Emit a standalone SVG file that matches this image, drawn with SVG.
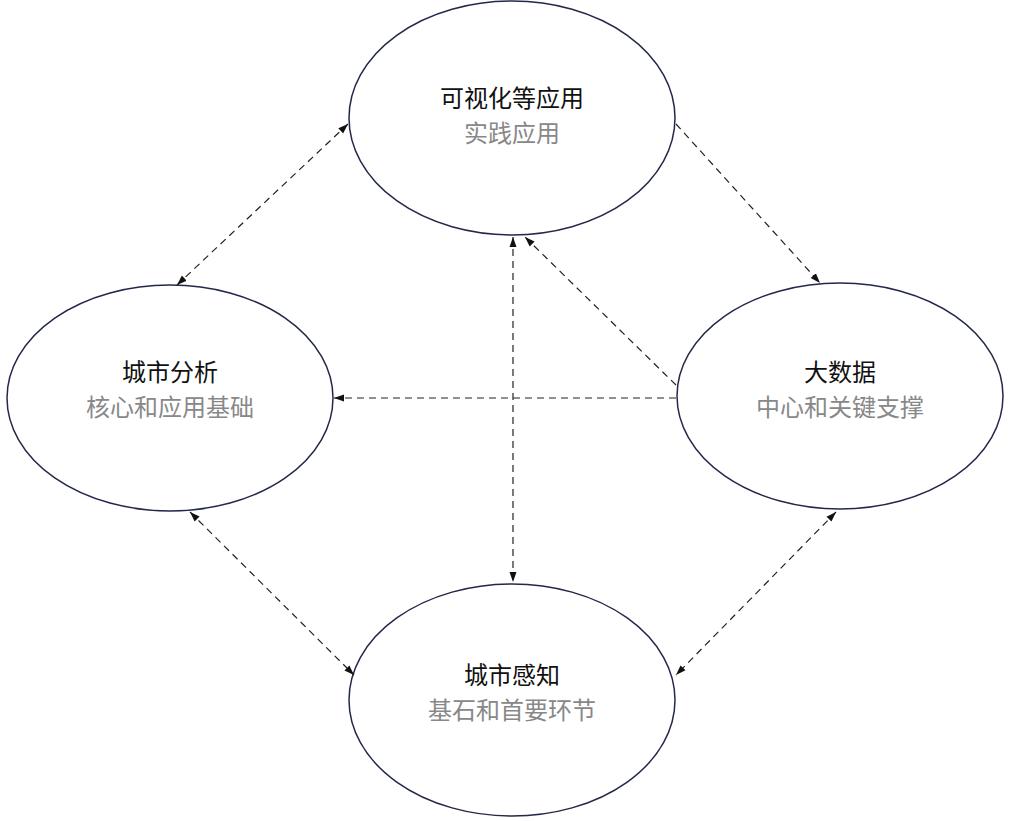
<svg xmlns="http://www.w3.org/2000/svg" width="1011" height="821" viewBox="0 0 1011 821">
<style>
.n{fill:#fff;stroke:#23284a;stroke-width:1.5}
.t{font-family:"Liberation Sans","Noto Sans CJK SC",sans-serif;font-size:24px;text-anchor:middle;fill:#111}
.s{font-family:"Liberation Sans","Noto Sans CJK SC",sans-serif;font-size:24px;text-anchor:middle;fill:#888}
.c line{stroke:#222;stroke-width:1.2;stroke-dasharray:7,5;fill:none}
</style>
<defs>
<marker id="a" viewBox="0 0 10 10" refX="10" refY="5" markerWidth="10" markerHeight="10" markerUnits="userSpaceOnUse" orient="auto-start-reverse"><path d="M0,1.5L10,5L0,8.5z" fill="#111"/></marker>
</defs>
<rect width="1011" height="821" fill="#fff"/>
<g id="top"><ellipse class="n" cx="512" cy="118" rx="163" ry="117"/><text class="t" x="512" y="107">可视化等应用</text><text class="s" x="512" y="142">实践应用</text></g>
<g id="left"><ellipse class="n" cx="170" cy="398" rx="163" ry="113"/><text class="t" x="170" y="381">城市分析</text><text class="s" x="170" y="416">核心和应用基础</text></g>
<g id="right"><ellipse class="n" cx="840" cy="396" rx="163" ry="113"/><text class="t" x="840" y="381">大数据</text><text class="s" x="840" y="416">中心和关键支撑</text></g>
<g id="bottom"><ellipse class="n" cx="512" cy="700" rx="163" ry="116"/><text class="t" x="512" y="684">城市感知</text><text class="s" x="512" y="719">基石和首要环节</text></g>
<g class="c">
<line x1="348" y1="124" x2="177" y2="285" marker-start="url(#a)" marker-end="url(#a)"/>
<line x1="676" y1="124" x2="820" y2="283" marker-end="url(#a)"/>
<line x1="676" y1="385" x2="525" y2="237" marker-end="url(#a)"/>
<line x1="676" y1="398" x2="334" y2="398" marker-end="url(#a)"/>
<line x1="513" y1="237" x2="513" y2="582" marker-start="url(#a)" marker-end="url(#a)"/>
<line x1="190" y1="512" x2="354" y2="675" marker-start="url(#a)" marker-end="url(#a)"/>
<line x1="836" y1="512" x2="676" y2="675" marker-start="url(#a)" marker-end="url(#a)"/>
</g>
</svg>
